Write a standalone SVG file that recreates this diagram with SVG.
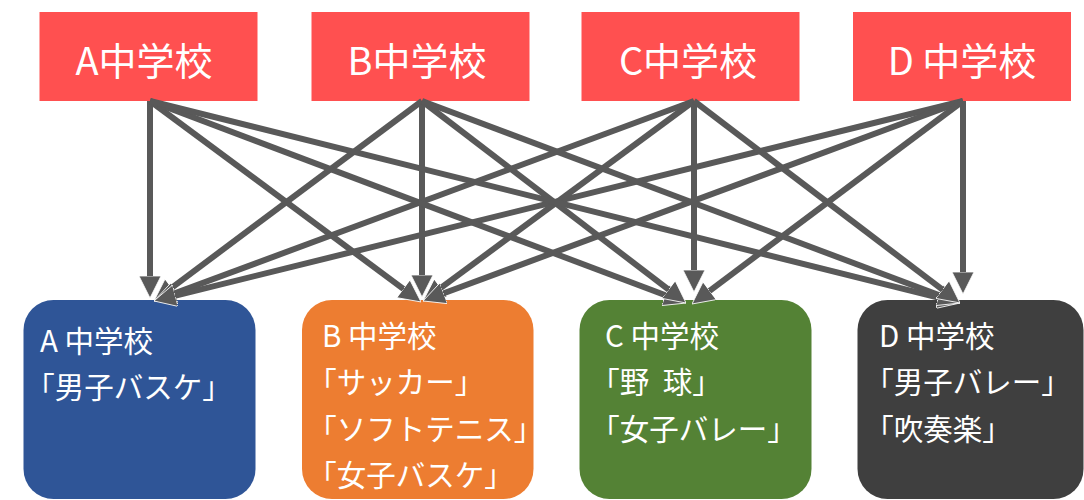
<svg xmlns="http://www.w3.org/2000/svg" width="1084" height="500" viewBox="0 0 1084 500">
<style>
.top{fill:#FF5050}
.tt{fill:#fff;font-family:"Noto Sans CJK JP","Noto Sans",sans-serif;font-size:38px;text-anchor:middle}
.bt{fill:#fff;font-family:"Noto Sans CJK JP","Noto Sans",sans-serif;font-size:29.5px;font-feature-settings:"halt"}
.ln{stroke:#595959;stroke-width:6;fill:none;marker-end:url(#ah)}
</style>
<defs>
<marker id="ah" markerUnits="userSpaceOnUse" viewBox="0 0 22 22" markerWidth="22" markerHeight="22" refX="10" refY="11" orient="auto">
<path d="M0,0 L22,11 L0,22 Z" fill="#595959" stroke="#fff" stroke-width="0.8" stroke-linejoin="miter"/>
</marker>
</defs>
<g id="top-A"><rect class="top" x="39.5" y="12" width="218" height="89"/><text class="tt" x="144" y="75">A中学校</text></g>
<g id="top-B"><rect class="top" x="311.5" y="12" width="218" height="89"/><text class="tt" x="417" y="75">B中学校</text></g>
<g id="top-C"><rect class="top" x="581.5" y="12" width="218" height="89"/><text class="tt" x="688" y="75">C中学校</text></g>
<g id="top-D"><rect class="top" x="853" y="12" width="218" height="89"/><text class="tt" x="962" y="75">D 中学校</text></g>
<g id="box-A"><rect x="23.5" y="300" width="232" height="199" rx="30" fill="#2F5597"/>
<text class="bt" x="40" y="352">A 中学校</text><text class="bt" x="40" y="398">「男子バスケ」</text></g>
<g id="box-B"><rect x="302" y="300" width="231.5" height="199" rx="30" fill="#ED7D31"/>
<text class="bt" x="322" y="347">B 中学校</text><text class="bt" x="322" y="393">「サッカー」</text><text class="bt" x="322" y="440">「ソフトテニス」</text><text class="bt" x="322" y="486">「女子バスケ」</text></g>
<g id="box-C"><rect x="579.5" y="300" width="232" height="199" rx="30" fill="#548235"/>
<text class="bt" x="605" y="347">C 中学校</text><text class="bt" x="605" y="393">「野 <tspan dx="7">球」</tspan></text><text class="bt" x="605" y="440">「女子バレー」</text></g>
<g id="box-D"><rect x="857.5" y="300" width="226" height="199" rx="30" fill="#3F3F3F"/>
<text class="bt" x="879" y="347">D 中学校</text><text class="bt" x="879" y="393">「男子バレー」</text><text class="bt" x="879" y="440">「吹奏楽」</text></g>
<g id="connectors">
<line class="ln" x1="150" y1="101" x2="150" y2="286"/>
<line class="ln" x1="422" y1="101" x2="163.6" y2="293.8"/>
<line class="ln" x1="694" y1="101" x2="165.3" y2="296.8"/>
<line class="ln" x1="963" y1="101" x2="165.6" y2="298.1"/>
<line class="ln" x1="150" y1="101" x2="411.4" y2="294.8"/>
<line class="ln" x1="422" y1="101" x2="422" y2="285"/>
<line class="ln" x1="694" y1="101" x2="432.7" y2="293.9"/>
<line class="ln" x1="963" y1="101" x2="434.3" y2="296.8"/>
<line class="ln" x1="150" y1="101" x2="674.8" y2="298.8"/>
<line class="ln" x1="422" y1="101" x2="676.5" y2="295.7"/>
<line class="ln" x1="694" y1="101" x2="694" y2="280"/>
<line class="ln" x1="963" y1="101" x2="701.6" y2="296.8"/>
<line class="ln" x1="150" y1="101" x2="948.4" y2="300.1"/>
<line class="ln" x1="422" y1="101" x2="948.8" y2="298.8"/>
<line class="ln" x1="694" y1="101" x2="950.4" y2="295.7"/>
<line class="ln" x1="963" y1="101" x2="963" y2="282"/>
</g>
</svg>
